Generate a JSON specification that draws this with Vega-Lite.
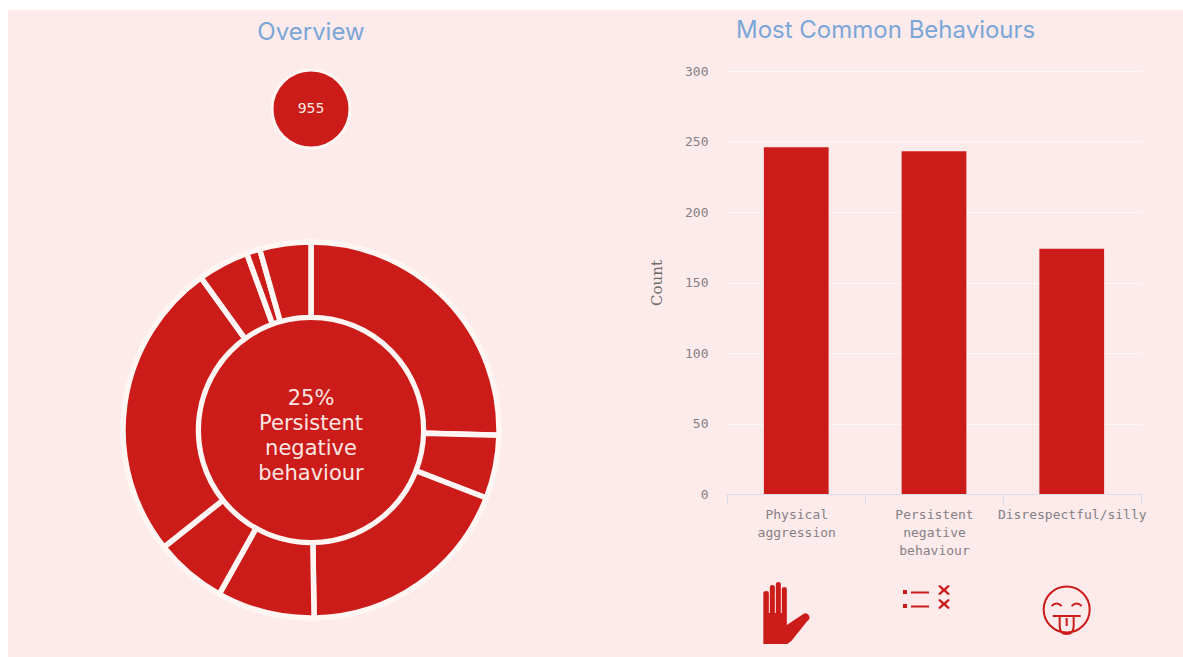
{
  "$schema": "https://vega.github.io/schema/vega-lite/v6.json",
  "background": "#fdeaea",
  "padding": 0,
  "autosize": {"type": "pad"},
  "spacing": 0,
  "config": {
    "view": {"stroke": null},
    "font": "DejaVu Sans",
    "title": {"font": "Inter", "fontSize": 24, "fontWeight": "normal", "color": "#7ba6d8"}
  },
  "datasets": {
    "behaviours": [
      {"behaviour": "Physical aggression", "count": 246},
      {"behaviour": "Persistent negative behaviour", "count": 243},
      {"behaviour": "Disrespectful/silly", "count": 174}
    ],
    "breakdown": [
      {"seq": 1, "behaviour": "Persistent negative behaviour", "count": 243},
      {"seq": 2, "behaviour": "Category B", "count": 52},
      {"seq": 3, "behaviour": "Disrespectful/silly", "count": 180},
      {"seq": 4, "behaviour": "Category D", "count": 80},
      {"seq": 5, "behaviour": "Category E", "count": 59},
      {"seq": 6, "behaviour": "Physical aggression", "count": 246},
      {"seq": 7, "behaviour": "Category G", "count": 42},
      {"seq": 8, "behaviour": "Category H", "count": 11},
      {"seq": 9, "behaviour": "Category I", "count": 42}
    ],
    "total": [{"total": 955}],
    "headline": [{"label": "25%\nPersistent\nnegative\nbehaviour"}]
  },
  "hconcat": [
    {
      "width": 8,
      "height": 657,
      "view": {"fill": "#ffffff", "stroke": null},
      "data": {"values": []},
      "mark": {"type": "rect"},
      "encoding": {}
    },
    {
      "spacing": 9,
      "vconcat": [
        {
          "width": 1175,
          "height": 10,
          "view": {"fill": "#ffffff", "stroke": null},
          "data": {"values": []},
          "mark": {"type": "rect"},
          "encoding": {}
        },
        {
          "spacing": 35,
          "hconcat": [
            {
              "bounds": "flush",
              "spacing": 95,
              "vconcat": [
                {
                  "width": 606,
                  "height": 76,
                  "title": {"text": "Overview", "anchor": "middle", "offset": 19},
                  "data": {"name": "total"},
                  "layer": [
                    {
                      "mark": {"type": "arc", "outerRadius": 39, "innerRadius": 0, "color": "#cc1c1a", "stroke": "#fff6f4", "strokeWidth": 3},
                      "encoding": {"theta": {"field": "total", "type": "quantitative", "scale": {"domain": [0, 955]}}}
                    },
                    {
                      "mark": {"type": "text", "fontSize": 14, "color": "#fde6e2"},
                      "encoding": {"text": {"field": "total", "type": "quantitative"}}
                    }
                  ]
                },
                {
                  "width": 606,
                  "height": 376,
                  "layer": [
                    {
                      "data": {"name": "breakdown"},
                      "mark": {"type": "arc", "outerRadius": 188, "innerRadius": 112.5, "color": "#cc1c1a", "stroke": "#fff6f4", "strokeWidth": 5.5},
                      "encoding": {
                        "theta": {"field": "count", "type": "quantitative", "stack": true, "scale": {"domain": [0, 955]}},
                        "order": {"field": "seq", "type": "quantitative"}
                      }
                    },
                    {
                      "data": {"name": "total"},
                      "mark": {"type": "arc", "outerRadius": 110, "innerRadius": 0, "color": "#cc1c1a"},
                      "encoding": {"theta": {"field": "total", "type": "quantitative", "scale": {"domain": [0, 955]}}}
                    },
                    {
                      "data": {"name": "headline"},
                      "mark": {"type": "text", "fontSize": 21, "font": "DejaVu Sans", "lineBreak": "\n", "lineHeight": 25, "color": "#fde6e2", "dy": -31},
                      "encoding": {"text": {"field": "label", "type": "nominal"}}
                    }
                  ]
                }
              ]
            },
            {
              "bounds": "flush",
              "spacing": 91,
              "vconcat": [
                {
                  "width": 416,
                  "height": 423,
                  "title": {"text": "Most Common Behaviours", "anchor": "start", "frame": "group", "dx": 10, "offset": 22},
                  "data": {"name": "behaviours"},
                  "mark": {"type": "bar", "color": "#cc1c1a", "width": {"band": 0.47}},
                  "encoding": {
                    "x": {
                      "field": "behaviour",
                      "type": "nominal",
                      "sort": null,
                      "scale": {"paddingInner": 0, "paddingOuter": 0.01},
                      "axis": {
                        "title": null,
                        "labelAngle": 0,
                        "labelColor": "#858085",
                        "labelFont": "DejaVu Sans Mono",
                        "labelFontSize": 13,
                        "labelPadding": 4,
                        "labelLineHeight": 18,
                        "labelLimit": 0,
                        "labelExpr": "split(datum.label, ' ')",
                        "tickBand": "extent",
                        "tickColor": "#d8dcec",
                        "tickSize": 10,
                        "domainColor": "#d8dcec"
                      }
                    },
                    "y": {
                      "field": "count",
                      "type": "quantitative",
                      "scale": {"domain": [0, 300], "nice": false},
                      "axis": {
                        "title": "Count",
                        "titleFont": "DejaVu Serif",
                        "titleFontSize": 15,
                        "titleFontWeight": "normal",
                        "titleColor": "#6f6a6a",
                        "titlePadding": 20,
                        "values": [0, 50, 100, 150, 200, 250, 300],
                        "labelColor": "#858085",
                        "labelFont": "DejaVu Sans Mono",
                        "labelFontSize": 13,
                        "labelPadding": 18,
                        "domain": false,
                        "ticks": false,
                        "grid": true,
                        "gridColor": "#ffffff",
                        "gridOpacity": 0.6
                      }
                    }
                  }
                },
                {
                  "width": 416,
                  "height": 60,
                  "data": {"name": "behaviours"},
                  "resolve": {"scale": {"shape": "independent"}},
                  "encoding": {
                    "x": {
                      "field": "behaviour",
                      "type": "nominal",
                      "sort": null,
                      "scale": {"paddingInner": 0, "paddingOuter": 0.01},
                      "axis": null
                    }
                  },
                  "layer": [
                    {
                      "transform": [{"filter": "datum.behaviour !== 'Disrespectful/silly'"}],
                      "mark": {"type": "point", "filled": true, "size": 4, "opacity": 1, "color": "#cc1c1a"},
                      "encoding": {
                        "shape": {
                          "field": "behaviour",
                          "type": "nominal",
                          "legend": null,
                          "scale": {
                            "domain": ["Physical aggression", "Persistent negative behaviour"],
                            "range": [
                              "M-32,29 L-32,-22 Q-32,-24 -29,-24 Q-26.5,-24 -26.5,-22 L-26.5,-2 L-25.5,-2 L-25.5,-28 Q-25.5,-30 -23,-30 Q-20.5,-30 -20.5,-28 L-20.5,-2 L-19.5,-2 L-19.5,-31 Q-19.5,-33 -17,-33 Q-14.5,-33 -14.5,-31 L-14.5,-2 L-13.5,-2 L-13.5,-26 Q-13.5,-28 -11,-28 Q-8.5,-28 -8.5,-26 L-8.5,10 L8,-1 Q12,-3 14,1 Q15,4 12,6 L-4,26 L-8,29 Z",
                              "M-31,-25 L-27,-25 L-27,-21 L-31,-21 Z M-31,-11 L-27,-11 L-27,-7 L-31,-7 Z M-23,-23.5 L-5,-23.5 L-5,-21.5 L-23,-21.5 Z M-23,-9.5 L-5,-9.5 L-5,-7.5 L-23,-7.5 Z M4,-29 L6,-30 L10,-26.5 L14,-30 L16,-29 L12,-25 L16,-21 L14,-20 L10,-23.5 L6,-20 L4,-21 L8,-25 Z M4,-15 L6,-16 L10,-12.5 L14,-16 L16,-15 L12,-11 L16,-7 L14,-6 L10,-9.5 L6,-6 L4,-7 L8,-11 Z"
                            ]
                          }
                        }
                      }
                    },
                    {
                      "transform": [{"filter": "datum.behaviour === 'Disrespectful/silly'"}],
                      "mark": {"type": "point", "filled": false, "size": 4, "opacity": 1, "color": "#cc1c1a", "strokeWidth": 2},
                      "encoding": {
                        "shape": {
                          "field": "behaviour",
                          "type": "nominal",
                          "legend": null,
                          "scale": {
                            "domain": ["Disrespectful/silly"],
                            "range": [
                              "M-29,-5.5 A23,23 0 1 1 17,-5.5 A23,23 0 1 1 -29,-5.5 Z M-21,-9 Q-16,-14 -11,-9 M-1,-9 Q4,-14 9,-9 M-20,1 L8,1 M-13,2 L-13,11 Q-13,19 -6,19 Q1,19 1,11 L1,2 M-6,3 L-6,11"
                            ]
                          }
                        }
                      }
                    }
                  ]
                }
              ]
            }
          ]
        }
      ]
    }
  ]
}
